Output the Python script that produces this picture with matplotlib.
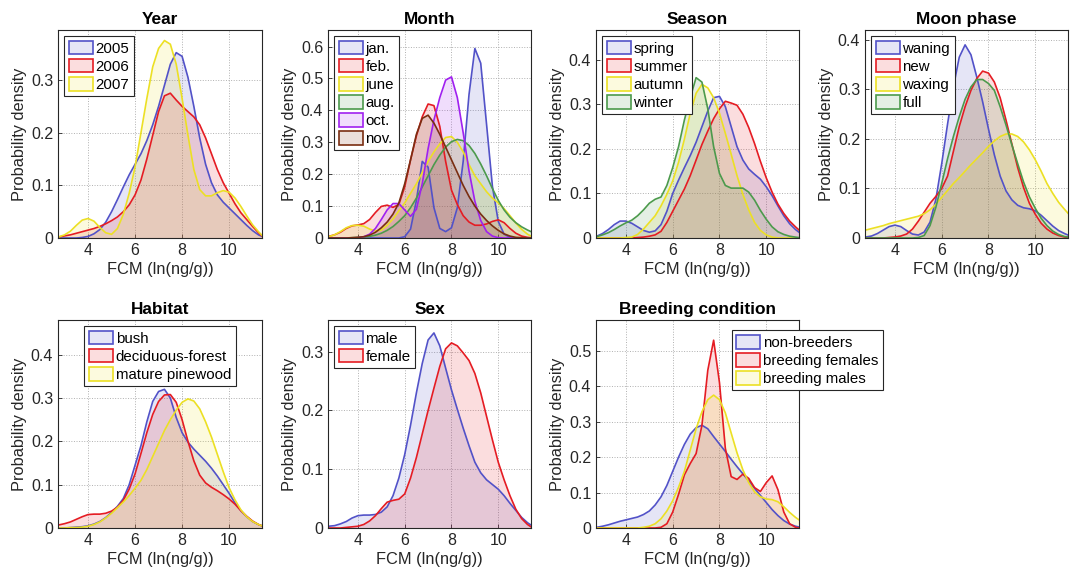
import matplotlib
matplotlib.use("Agg")
import matplotlib.pyplot as plt
import numpy as np
from matplotlib.patches import Patch
from matplotlib.ticker import FuncFormatter

plt.rcParams["font.family"] = ["Liberation Sans", "DejaVu Sans"]

fcm = np.append(np.arange(2.75, 11.26, 0.25), 11.4)

BLUE, RED, YELLOW = "#5252c8", "#e51c23", "#ece024"
GREEN, PURPLE, BROWN = "#4c9a4c", "#a020f0", "#7a2e12"

# ---- Year
year_labels = ["2005", "2006", "2007"]
year_2005 = [0.000, 0.000, 0.000, 0.000, 0.001, 0.003, 0.008, 0.016, 0.030, 0.050, 0.073, 0.097,
             0.120, 0.140, 0.160, 0.185, 0.215, 0.250, 0.290, 0.330, 0.352, 0.345, 0.305, 0.250,
             0.190, 0.140, 0.105, 0.082, 0.068, 0.057, 0.046, 0.035, 0.024, 0.014, 0.006, 0.003]
year_2006 = [0.002, 0.004, 0.006, 0.009, 0.012, 0.015, 0.018, 0.022, 0.027, 0.033, 0.040, 0.050,
             0.063, 0.082, 0.110, 0.150, 0.195, 0.240, 0.270, 0.275, 0.262, 0.250, 0.240, 0.230,
             0.215, 0.190, 0.160, 0.130, 0.105, 0.085, 0.065, 0.048, 0.035, 0.022, 0.010, 0.004]
year_2007 = [0.002, 0.006, 0.013, 0.024, 0.034, 0.037, 0.032, 0.020, 0.010, 0.007, 0.018, 0.045,
             0.085, 0.135, 0.200, 0.265, 0.325, 0.360, 0.375, 0.368, 0.330, 0.265, 0.195, 0.130,
             0.092, 0.080, 0.080, 0.086, 0.090, 0.087, 0.076, 0.060, 0.042, 0.025, 0.012, 0.005]

# ---- Month
month_labels = ["jan.", "feb.", "june", "aug.", "oct.", "nov."]
month_jan = [0, 0, 0, 0, 0, 0, 0, 0, 0, 0, 0, 0,
             0.000, 0.004, 0.028, 0.118, 0.240, 0.222, 0.095, 0.030, 0.020, 0.032, 0.095, 0.240,
             0.450, 0.594, 0.548, 0.356, 0.162, 0.052, 0.012, 0.002, 0, 0, 0, 0]
month_feb = [0.005, 0.010, 0.018, 0.030, 0.038, 0.041, 0.045, 0.058, 0.080, 0.099, 0.103, 0.096,
             0.105, 0.160, 0.245, 0.320, 0.380, 0.420, 0.415, 0.350, 0.240, 0.150, 0.105, 0.070,
             0.050, 0.040, 0.040, 0.044, 0.052, 0.057, 0.048, 0.030, 0.015, 0.006, 0.002, 0.001]
month_june = [0.004, 0.010, 0.020, 0.032, 0.039, 0.040, 0.037, 0.028, 0.022, 0.025, 0.040, 0.060,
              0.085, 0.110, 0.140, 0.170, 0.205, 0.240, 0.270, 0.295, 0.315, 0.318, 0.300, 0.270,
              0.230, 0.195, 0.170, 0.145, 0.125, 0.110, 0.092, 0.070, 0.047, 0.027, 0.012, 0.006]
month_aug = [0, 0, 0, 0, 0.001, 0.002, 0.003, 0.005, 0.009, 0.015, 0.024, 0.036,
             0.052, 0.070, 0.095, 0.125, 0.160, 0.195, 0.230, 0.260, 0.285, 0.302, 0.309, 0.305,
             0.290, 0.265, 0.232, 0.195, 0.155, 0.118, 0.088, 0.065, 0.048, 0.035, 0.025, 0.020]
month_oct = [0, 0, 0, 0, 0, 0.001, 0.004, 0.012, 0.030, 0.058, 0.088, 0.108,
             0.108, 0.088, 0.068, 0.090, 0.170, 0.280, 0.370, 0.440, 0.495, 0.505, 0.440, 0.330,
             0.210, 0.115, 0.055, 0.020, 0.006, 0.001, 0, 0, 0, 0, 0, 0]
month_nov = [0, 0, 0, 0, 0.001, 0.002, 0.004, 0.009, 0.018, 0.032, 0.050, 0.075,
             0.110, 0.170, 0.245, 0.325, 0.375, 0.385, 0.360, 0.325, 0.285, 0.245, 0.205, 0.165,
             0.130, 0.100, 0.075, 0.055, 0.038, 0.024, 0.013, 0.006, 0.002, 0.001, 0, 0]

# ---- Season
season_labels = ["spring", "summer", "autumn", "winter"]
season_spring = [0.004, 0.010, 0.019, 0.030, 0.038, 0.038, 0.033, 0.025, 0.017, 0.013, 0.016, 0.030,
                 0.060, 0.100, 0.130, 0.158, 0.185, 0.215, 0.250, 0.285, 0.315, 0.318, 0.295, 0.250,
                 0.205, 0.175, 0.155, 0.143, 0.132, 0.115, 0.095, 0.072, 0.050, 0.032, 0.019, 0.013]
season_summer = [0, 0, 0, 0, 0, 0, 0, 0.001, 0.002, 0.004, 0.007, 0.015,
                 0.035, 0.060, 0.085, 0.110, 0.140, 0.175, 0.210, 0.240, 0.268, 0.290, 0.307, 0.303,
                 0.298, 0.278, 0.248, 0.212, 0.172, 0.135, 0.103, 0.076, 0.055, 0.038, 0.025, 0.018]
season_autumn = [0, 0, 0, 0, 0, 0.001, 0.002, 0.008, 0.020, 0.035, 0.050, 0.072,
                 0.098, 0.128, 0.170, 0.222, 0.280, 0.325, 0.345, 0.337, 0.315, 0.280, 0.235, 0.188,
                 0.140, 0.098, 0.063, 0.035, 0.017, 0.007, 0.002, 0, 0, 0, 0, 0]
season_winter = [0.003, 0.007, 0.012, 0.019, 0.027, 0.034, 0.040, 0.050, 0.063, 0.078, 0.087, 0.092,
                 0.118, 0.158, 0.205, 0.265, 0.315, 0.360, 0.350, 0.290, 0.205, 0.145, 0.118, 0.112,
                 0.112, 0.112, 0.103, 0.085, 0.062, 0.042, 0.025, 0.014, 0.008, 0.004, 0.002, 0.001]

# ---- Moon phase
moon_labels = ["waning", "new", "waxing", "full"]
moon_waning = [0.002, 0.004, 0.009, 0.016, 0.023, 0.026, 0.023, 0.015, 0.008, 0.006, 0.012, 0.032,
               0.078, 0.150, 0.230, 0.305, 0.365, 0.390, 0.370, 0.325, 0.275, 0.220, 0.168, 0.125,
               0.095, 0.077, 0.066, 0.061, 0.059, 0.055, 0.046, 0.035, 0.024, 0.015, 0.009, 0.006]
moon_new = [0, 0, 0, 0, 0.001, 0.002, 0.004, 0.008, 0.018, 0.034, 0.052, 0.070,
            0.084, 0.100, 0.125, 0.175, 0.225, 0.265, 0.298, 0.322, 0.337, 0.333, 0.315, 0.283,
            0.238, 0.190, 0.142, 0.102, 0.070, 0.048, 0.030, 0.018, 0.010, 0.005, 0.002, 0.001]
moon_waxing = [0.016, 0.019, 0.022, 0.025, 0.029, 0.032, 0.035, 0.038, 0.041, 0.044, 0.049, 0.057,
               0.068, 0.082, 0.096, 0.110, 0.122, 0.135, 0.148, 0.160, 0.172, 0.185, 0.196, 0.205,
               0.210, 0.210, 0.205, 0.194, 0.178, 0.158, 0.135, 0.110, 0.090, 0.072, 0.058, 0.050]
moon_full = [0, 0, 0, 0, 0, 0, 0, 0, 0, 0.001, 0.005, 0.025,
             0.062, 0.110, 0.160, 0.205, 0.245, 0.280, 0.305, 0.320, 0.320, 0.312, 0.298, 0.265,
             0.228, 0.188, 0.150, 0.113, 0.083, 0.060, 0.040, 0.025, 0.014, 0.007, 0.003, 0.002]

# ---- Habitat
habitat_labels = ["bush", "deciduous-forest", "mature pinewood"]
habitat_bush = [0.000, 0.000, 0.001, 0.002, 0.003, 0.005, 0.009, 0.015, 0.024, 0.036, 0.050, 0.068,
                0.100, 0.145, 0.190, 0.245, 0.292, 0.315, 0.320, 0.300, 0.255, 0.220, 0.198, 0.182,
                0.168, 0.154, 0.138, 0.120, 0.100, 0.080, 0.058, 0.040, 0.026, 0.015, 0.008, 0.005]
habitat_decid = [0.007, 0.010, 0.014, 0.020, 0.026, 0.031, 0.032, 0.032, 0.034, 0.039, 0.048, 0.064,
                 0.090, 0.125, 0.172, 0.220, 0.262, 0.292, 0.307, 0.308, 0.290, 0.250, 0.200, 0.155,
                 0.122, 0.104, 0.094, 0.086, 0.077, 0.067, 0.055, 0.040, 0.027, 0.016, 0.008, 0.005]
habitat_pine = [0.000, 0.000, 0.001, 0.001, 0.002, 0.004, 0.008, 0.014, 0.023, 0.034, 0.047, 0.060,
                0.075, 0.092, 0.110, 0.135, 0.165, 0.195, 0.225, 0.250, 0.272, 0.290, 0.298, 0.293,
                0.275, 0.245, 0.210, 0.170, 0.130, 0.093, 0.065, 0.042, 0.026, 0.015, 0.008, 0.005]

# ---- Sex
sex_labels = ["male", "female"]
sex_male = [0.003, 0.004, 0.007, 0.011, 0.017, 0.021, 0.022, 0.022, 0.023, 0.027, 0.036, 0.055,
            0.085, 0.125, 0.175, 0.230, 0.280, 0.320, 0.332, 0.310, 0.272, 0.235, 0.202, 0.170,
            0.140, 0.112, 0.094, 0.082, 0.074, 0.066, 0.055, 0.042, 0.030, 0.018, 0.009, 0.005]
sex_female = [0, 0, 0, 0.001, 0.002, 0.003, 0.006, 0.012, 0.021, 0.033, 0.044, 0.047,
              0.049, 0.058, 0.085, 0.120, 0.160, 0.200, 0.238, 0.275, 0.305, 0.315, 0.310, 0.298,
              0.285, 0.263, 0.230, 0.190, 0.150, 0.112, 0.082, 0.055, 0.032, 0.016, 0.006, 0.002]

# ---- Breeding condition
breed_labels = ["non-breeders", "breeding females", "breeding males"]
breed_non = [0.002, 0.005, 0.009, 0.014, 0.019, 0.023, 0.027, 0.031, 0.038, 0.048, 0.065, 0.088,
             0.120, 0.160, 0.200, 0.236, 0.265, 0.283, 0.290, 0.280, 0.258, 0.237, 0.216, 0.194,
             0.173, 0.153, 0.133, 0.112, 0.092, 0.072, 0.052, 0.035, 0.021, 0.011, 0.005, 0.003]
breed_fem = [0, 0, 0, 0, 0, 0, 0, 0, 0, 0, 0, 0.002,
             0.012, 0.045, 0.095, 0.150, 0.182, 0.210, 0.290, 0.445, 0.530, 0.410, 0.225, 0.145,
             0.137, 0.152, 0.140, 0.114, 0.103, 0.128, 0.147, 0.108, 0.045, 0.012, 0.002, 0]
breed_male = [0, 0, 0, 0, 0, 0, 0, 0, 0.002, 0.005, 0.012, 0.026,
              0.048, 0.077, 0.115, 0.160, 0.220, 0.280, 0.328, 0.362, 0.375, 0.362, 0.325, 0.268,
              0.212, 0.164, 0.128, 0.102, 0.088, 0.082, 0.080, 0.074, 0.060, 0.044, 0.030, 0.023]

W, H = 1077, 575
INK = "#262626"


def px_axes(fig, left, top, right, bottom):
    return fig.add_axes([left / W, 1 - bottom / H, (right - left) / W, (bottom - top) / H])


def panel(ax, title, labels, series, colors, ytop, yticks, legend_kw):
    for vals, col in zip(series, colors):
        ax.fill_between(fcm, vals, 0, color=col, alpha=0.15, lw=0)
        ax.plot(fcm, vals, color=col, lw=1.2, solid_joinstyle="round")
    ax.set_xlim(2.72, 11.4)
    ax.set_ylim(0, ytop)
    ax.set_xticks([4, 6, 8, 10])
    ax.set_yticks(yticks)
    ax.yaxis.set_major_formatter(FuncFormatter(lambda v, p: f"{v:g}"))
    ax.tick_params(direction="in", length=3, labelsize=11.5, colors=INK, width=0.6)
    ax.grid(True, ls=":", color="#b0b0b0", lw=0.7)
    ax.set_axisbelow(True)
    for s in ax.spines.values():
        s.set_linewidth(0.8)
        s.set_color(INK)
    ax.set_title(title, fontsize=12.4, fontweight="bold", pad=4)
    ax.set_xlabel("FCM (ln(ng/g))", fontsize=11.8, color=INK, labelpad=3)
    ax.set_ylabel("Probability density", fontsize=11.8, color=INK, labelpad=3)
    handles = [Patch(facecolor=matplotlib.colors.to_rgba(c, 0.15), edgecolor=c, lw=1.2) for c in colors]
    leg = ax.legend(handles, labels, fontsize=10.8, fancybox=False, framealpha=1,
                    edgecolor=INK, handlelength=1.6, handleheight=1.05,
                    handletextpad=0.2, labelspacing=0.2, borderpad=0.3,
                    borderaxespad=0.4, **legend_kw)
    leg.get_frame().set_linewidth(0.8)


fig = plt.figure(figsize=(W / 100, H / 100), dpi=100)

ax = px_axes(fig, 58, 30, 262, 238)
panel(ax, "Year", year_labels, [year_2005, year_2006, year_2007], [BLUE, RED, YELLOW],
      0.395, [0, 0.1, 0.2, 0.3], dict(loc="upper left"))

ax = px_axes(fig, 328, 30, 531, 238)
panel(ax, "Month", month_labels,
      [month_jan, month_feb, month_june, month_aug, month_oct, month_nov],
      [BLUE, RED, YELLOW, GREEN, PURPLE, BROWN],
      0.652, [0, 0.1, 0.2, 0.3, 0.4, 0.5, 0.6], dict(loc="upper left"))

ax = px_axes(fig, 596, 30, 799, 238)
panel(ax, "Season", season_labels,
      [season_spring, season_summer, season_autumn, season_winter],
      [BLUE, RED, YELLOW, GREEN], 0.467, [0, 0.1, 0.2, 0.3, 0.4], dict(loc="upper left"))

ax = px_axes(fig, 865, 30, 1068, 238)
panel(ax, "Moon phase", moon_labels, [moon_waning, moon_new, moon_waxing, moon_full],
      [BLUE, RED, YELLOW, GREEN], 0.42, [0, 0.1, 0.2, 0.3, 0.4], dict(loc="upper left"))

ax = px_axes(fig, 58, 320, 262, 528)
panel(ax, "Habitat", habitat_labels, [habitat_bush, habitat_decid, habitat_pine],
      [BLUE, RED, YELLOW], 0.48, [0, 0.1, 0.2, 0.3, 0.4], dict(loc="upper center"))

ax = px_axes(fig, 328, 320, 531, 528)
panel(ax, "Sex", sex_labels, [sex_male, sex_female], [BLUE, RED],
      0.354, [0, 0.1, 0.2, 0.3], dict(loc="upper left"))

ax = px_axes(fig, 596, 320, 799, 528)
panel(ax, "Breeding condition", breed_labels, [breed_non, breed_fem, breed_male],
      [BLUE, RED, YELLOW], 0.587, [0, 0.1, 0.2, 0.3, 0.4, 0.5],
      dict(loc="upper left", bbox_to_anchor=(0.64, 0.98)))

fig.savefig("out.png", dpi=100)
